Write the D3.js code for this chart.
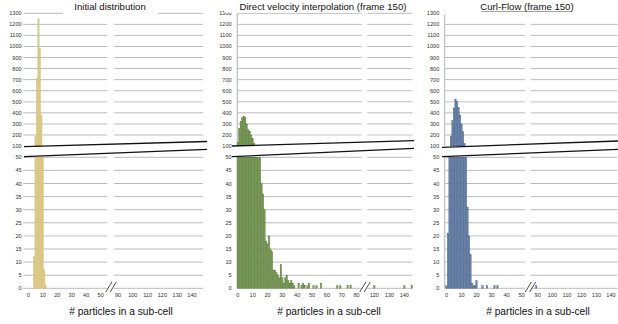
<!DOCTYPE html>
<html>
<head>
<meta charset="utf-8">
<script src="https://cdn.jsdelivr.net/npm/d3@7/dist/d3.min.js"></script>
<style>
  body { margin: 0; background: #fff; }
  svg { display: block; font-family: "Liberation Sans", Arial, Helvetica, sans-serif; }
</style>
</head>
<body>
<svg id="chart" width="618" height="324"></svg>
<script>
// titres
const panelTitles = ['Initial distribution', 'Direct velocity interpolation (frame 150)', 'Curl-Flow (frame 150)'];
const axisTitle = '# particles in a sub-cell';

// ticks
const topTicks = [100, 200, 300, 400, 500, 600, 700, 800, 900, 1000, 1100, 1200, 1300];
const bottomTicks = [0, 5, 10, 15, 20, 25, 30, 35, 40, 45, 50];
const leftTicksShort = [0, 10, 20, 30, 40, 50];
const leftTicksLong = [0, 10, 20, 30, 40, 50, 60, 70, 80];
const rightTicksWide = [90, 100, 110, 120, 130, 140];
const rightTicksNarrow = [120, 130, 140];

// histogrammes (nombre de sous-cellules par nombre de particules)
const initialBins   = [4, 5, 6, 7, 8, 9, 10, 11, 12];
const initialCounts = [12, 190, 710, 1250, 980, 380, 80, 7, 1];

const directBins = [0, 1, 2, 3, 4, 5, 6, 7, 8, 9, 10, 11, 12, 13, 14, 15, 16, 17, 18, 19,
  20, 21, 22, 23, 24, 25, 26, 27, 28, 29, 30, 31, 32, 33, 34, 35, 36, 37, 38,
  41, 43, 44, 45, 47, 48, 51, 53, 56, 67, 69, 74, 76, 120, 140, 145];
const directCounts = [130, 260, 320, 355, 370, 360, 300, 250, 235, 200, 165, 125, 95, 80, 65, 55, 40, 36, 30, 18,
  17, 20, 15, 14, 7, 7, 6, 5, 4, 9, 4, 2, 4, 5, 3, 2, 3, 2, 1,
  2, 1, 2, 1, 1, 2, 1, 1, 2, 1, 1, 1, 1, 1, 1, 1];

const curlBins   = [0, 1, 2, 3, 4, 5, 6, 7, 8, 9, 10, 11, 12, 13, 14, 15, 16, 17, 18, 19, 20, 24, 27, 32, 34, 89];
const curlCounts = [1, 21, 80, 190, 330, 440, 525, 500, 450, 380, 300, 230, 125, 70, 31, 20, 13, 2, 1, 1, 3, 1, 1, 1, 1, 1];

const svg = d3.select('#chart');

// echelles verticales communes (axe coupe)
const yTop = d3.scaleLinear().domain([100, 1300]).range([146, 13.3]);
const yBottom = d3.scaleLinear().domain([0, 50]).range([288.3, 157.3]);

const panels = [
  {
    title: panelTitles[0], titleX: 110, titleBg: [63, 158, 15], underline: null, labelX: 21.7,
    left: { domain: [0, 50], range: [28.3, 100.7], grid: [23.3, 107.3], ticks: leftTicksShort },
    right: { domain: [90, 140], range: [118, 192], grid: [114, 203], ticks: rightTicksWide },
    breakX: 111, axisX: null, axisTitleX: 121, lightTop: [300, 500],
    cut: { x0: 24, x1: 207, top: [146.7, 141.5], bottom: [156.7, 149.3] },
    bins: initialBins, counts: initialCounts,
    fill: '#d6c794', edge: '#e0bd4c',
  },
  {
    title: panelTitles[1], titleX: 323, titleBg: [224, 363, 12.6], underline: null, labelX: 231.7,
    left: { domain: [0, 80], range: [237.8, 356.6], grid: [237.3, 361.7], ticks: leftTicksLong },
    right: { domain: [120, 140], range: [374.3, 404.3], grid: [367.3, 412.5], ticks: rightTicksNarrow },
    breakX: 365, axisX: 237.3, axisTitleX: 329, lightTop: [200],
    cut: { x0: 232, x1: 414, top: [146, 140.7], bottom: [156.7, 148.3] },
    bins: directBins, counts: directCounts,
    fill: '#7c955e', edge: '#467a1c',
  },
  {
    title: panelTitles[2], titleX: 527, titleBg: [443, 618, 14.5], underline: [481, 572], labelX: 439.3,
    left: { domain: [0, 50], range: [446.5, 521.5], grid: [444.3, 525], ticks: leftTicksShort },
    right: { domain: [90, 140], range: [537.7, 611], grid: [530.7, 617.5], ticks: rightTicksWide },
    breakX: 530.5, axisX: 444.6, axisTitleX: 538, lightTop: [500],
    cut: { x0: 442, x1: 618, top: [147.3, 141], bottom: [156.7, 149.3] },
    bins: curlBins, counts: curlCounts,
    fill: '#6a80a3', edge: '#2f5589',
  },
];

panels.forEach(drawPanel);

function drawPanel(p) {
  const g = svg.append('g');
  const sections = [p.left, p.right].map((s) => ({
    ...s,
    x: d3.scaleLinear().domain(s.domain).range(s.range),
  }));

  // grilles
  sections.forEach((s) => {
    g.selectAll(null)
      .data(topTicks.filter((t) => t > 100))
      .enter()
      .append('line')
      .attr('x1', s.grid[0]).attr('x2', s.grid[1])
      .attr('y1', (d) => yTop(d)).attr('y2', (d) => yTop(d))
      .attr('stroke', (d) => (p.lightTop.includes(d) ? '#d8d8d8' : '#b3b3b3'))
      .attr('stroke-width', (d) => (p.lightTop.includes(d) ? 1.6 : 0.9));

    g.selectAll(null)
      .data(bottomTicks)
      .enter()
      .append('line')
      .attr('x1', s.grid[0]).attr('x2', s.grid[1])
      .attr('y1', (d) => yBottom(d)).attr('y2', (d) => yBottom(d))
      .attr('stroke', (d) => (d === 20 ? '#dcdcdc' : '#b3b3b3'))
      .attr('stroke-width', (d) => (d === 20 ? 1.6 : 0.9));
  });

  if (p.axisX !== null) {
    [[yTop(1300), yTop(100)], [yBottom(50), yBottom(0)]].forEach(([a, b]) => {
      g.append('line')
        .attr('x1', p.axisX).attr('x2', p.axisX)
        .attr('y1', a).attr('y2', b)
        .attr('stroke', '#c4c4c4')
        .attr('stroke-width', 1.4);
    });
  }

  // barres
  const data = p.bins.map((b, i) => ({ bin: b, count: p.counts[i] }));
  sections.forEach((s) => {
    const w = s.x(1) - s.x(0);
    const inSection = data.filter((d) => s.x(d.bin) - w / 2 >= s.grid[0] - 1 && s.x(d.bin) + w / 2 <= s.grid[1] + 1);

    // partie basse (0 - 50)
    g.selectAll(null)
      .data(inSection)
      .enter()
      .append('rect')
      .attr('x', (d) => s.x(d.bin) - w / 2)
      .attr('width', w)
      .attr('y', (d) => yBottom(Math.min(d.count, 50)))
      .attr('height', (d) => yBottom(0) - yBottom(Math.min(d.count, 50)))
      .attr('fill', p.fill)
      .attr('stroke', p.edge)
      .attr('stroke-width', 0.28);

    // partie haute (100 - 1300)
    g.selectAll(null)
      .data(inSection.filter((d) => d.count > 100))
      .enter()
      .append('rect')
      .attr('x', (d) => s.x(d.bin) - w / 2)
      .attr('width', w)
      .attr('y', (d) => yTop(d.count))
      .attr('height', (d) => yTop(100) - yTop(d.count))
      .attr('fill', p.fill)
      .attr('stroke', p.edge)
      .attr('stroke-width', 0.28);

    // etiquettes x
    g.selectAll(null)
      .data(s.ticks)
      .enter()
      .append('text')
      .attr('x', (d) => s.x(d))
      .attr('y', 297)
      .attr('text-anchor', 'middle')
      .attr('font-size', 5.6)
      .attr('fill', '#333')
      .text((d) => d);
  });

  // etiquettes y
  g.selectAll(null)
    .data(topTicks)
    .enter()
    .append('text')
    .attr('x', p.labelX)
    .attr('y', (d) => yTop(d) + 2)
    .attr('text-anchor', 'end')
    .attr('font-size', 5.6)
    .attr('fill', '#333')
    .text((d) => d);

  g.selectAll(null)
    .data(bottomTicks)
    .enter()
    .append('text')
    .attr('x', p.labelX)
    .attr('y', (d) => yBottom(d) + 2)
    .attr('text-anchor', 'end')
    .attr('font-size', 5.6)
    .attr('fill', '#333')
    .text((d) => d);

  // coupure de l'axe y
  const c = p.cut;
  g.append('polygon')
    .attr('points', [[c.x0, c.top[0]], [c.x1, c.top[1]], [c.x1, c.bottom[1]], [c.x0, c.bottom[0]]].join(' '))
    .attr('fill', '#fff');
  [c.top, c.bottom].forEach((ys) => {
    g.append('line')
      .attr('x1', c.x0).attr('y1', ys[0])
      .attr('x2', c.x1).attr('y2', ys[1])
      .attr('stroke', '#111')
      .attr('stroke-width', 1.3);
  });

  // coupure de l'axe x
  [-2.2, 2.2].forEach((dx) => {
    g.append('line')
      .attr('x1', p.breakX + dx - 3).attr('y1', 292)
      .attr('x2', p.breakX + dx + 3).attr('y2', 282)
      .attr('stroke', '#222')
      .attr('stroke-width', 0.8);
  });

  // titre
  if (p.titleBg) {
    g.append('rect')
      .attr('x', p.titleBg[0]).attr('y', 0)
      .attr('width', p.titleBg[1] - p.titleBg[0]).attr('height', p.titleBg[2])
      .attr('fill', '#fff');
  }
  if (p.underline) {
    g.append('line')
      .attr('x1', p.underline[0]).attr('x2', p.underline[1])
      .attr('y1', 11.5).attr('y2', 11.5)
      .attr('stroke', '#9a9a9a')
      .attr('stroke-width', 0.9);
  }
  g.append('text')
    .attr('x', p.titleX)
    .attr('y', 9.5)
    .attr('text-anchor', 'middle')
    .attr('font-size', 9.6)
    .attr('fill', '#111')
    .text(p.title);

  g.append('text')
    .attr('x', p.axisTitleX)
    .attr('y', 314.5)
    .attr('text-anchor', 'middle')
    .attr('font-size', 10.2)
    .attr('fill', '#111')
    .text(axisTitle);
}
</script>
</body>
</html>
